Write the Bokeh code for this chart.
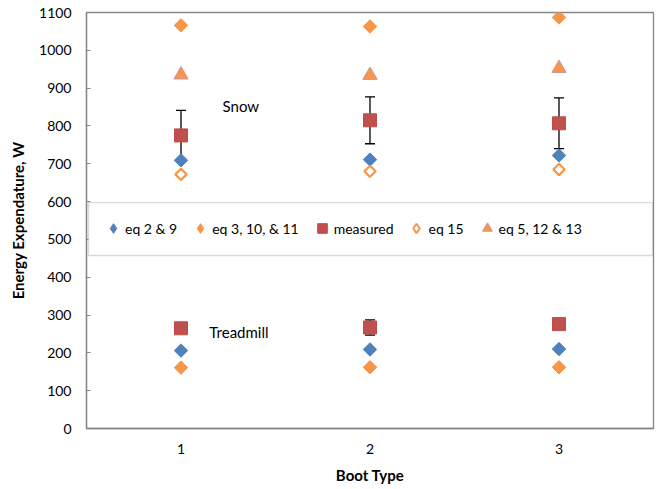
import numpy as np
from bokeh.plotting import figure
from bokeh.models import (ColumnDataSource, Range1d, FixedTicker, Legend, LegendItem,
                          Whisker, TeeHead, Label, BoxAnnotation)
from bokeh.embed import file_html
from bokeh.resources import INLINE

# ---- data ----
boots = [1, 2, 3]
x_ticks = [1, 2, 3]
y_ticks = [0, 100, 200, 300, 400, 500, 600, 700, 800, 900, 1000, 1100]

# Snow
snow_eq2_9 = [709, 711, 722]
snow_eq3_10_11 = [1066, 1063, 1087]
snow_measured = [775, 815, 807]
snow_measured_err = [66, 62, 67]
snow_eq15 = [672, 680, 685]
snow_eq5_12_13 = [935, 934, 952]

# Treadmill
tread_eq2_9 = [206, 209, 210]
tread_eq3_10_11 = [161, 162, 162]
tread_measured = [265, 267, 276]
tread_measured_err = [8, 20, 5]

FONT = "Lato"
BLUE, BLUE_L = "#4F81BD", "#4A7EBB"
ORANGE, ORANGE_L = "#F79646", "#F69240"
RED, RED_L = "#C0504D", "#BE4B48"
TRI_F, TRI_L = "#F79646", "#D9958F"
GRAY = "#868686"

p = figure(width=660, height=489, output_backend="svg", toolbar_location=None,
           x_range=Range1d(0.5, 3.5), y_range=Range1d(0, 1100),
           min_border_left=86, min_border_right=7, min_border_top=12, min_border_bottom=61)
p.background_fill_color = "white"
p.border_fill_color = "white"
p.outline_line_color = GRAY
p.outline_line_width = 1.3
p.xgrid.visible = False
p.ygrid.visible = False

# axes
p.xaxis.ticker = FixedTicker(ticks=x_ticks)
p.yaxis.ticker = FixedTicker(ticks=y_ticks)
for ax in (p.xaxis, p.yaxis):
    ax.axis_line_color = GRAY
    ax.axis_line_width = 1.3
    ax.minor_tick_line_color = None
    ax.major_tick_line_color = GRAY
    ax.major_label_text_font = FONT
    ax.major_label_text_font_size = "14px"
    ax.major_label_text_color = "#000000"
    ax.axis_label_text_font = FONT
    ax.axis_label_text_font_size = "15px"
    ax.axis_label_text_font_style = "bold"
    ax.axis_label_text_color = "#000000"
p.xaxis.major_tick_in = 0
p.xaxis.major_tick_out = 0
p.xaxis.major_label_standoff = 15
p.xaxis.axis_label = "Boot Type"
p.xaxis.axis_label_standoff = 9
p.yaxis.major_tick_in = 4
p.yaxis.major_tick_out = 0
p.yaxis.major_label_standoff = 15
p.yaxis.axis_label = "Energy Expendature, W"
p.yaxis.axis_label_standoff = 9

# error bars (beneath markers)
src_err = ColumnDataSource(dict(
    x=boots + boots,
    lo=[m - e for m, e in zip(snow_measured, snow_measured_err)] +
       [m - e for m, e in zip(tread_measured, tread_measured_err)],
    hi=[m + e for m, e in zip(snow_measured, snow_measured_err)] +
       [m + e for m, e in zip(tread_measured, tread_measured_err)],
))
wh = Whisker(source=src_err, base="x", lower="lo", upper="hi", dimension="height",
             line_color="black", line_width=1.3, level="underlay",
             lower_head=TeeHead(size=10, line_color="black", line_width=1.3),
             upper_head=TeeHead(size=10, line_color="black", line_width=1.3))
p.add_layout(wh)

# legend swatch renderers for the diamond series (drawn first, hidden under the
# rotated-square diamonds; legend swatches ignore marker angle)
lg_blue = p.scatter(boots, snow_eq2_9, marker="diamond", size=8,
                    fill_color=BLUE, line_color=BLUE_L)
lg_orange = p.scatter(boots, snow_eq3_10_11, marker="diamond", size=8,
                      fill_color=ORANGE, line_color=ORANGE_L)
lg_eq15 = p.scatter(boots, snow_eq15, marker="diamond", size=6,
                    fill_color="white", line_color=ORANGE, line_width=2)

ang = np.pi / 4
# snow series
p.scatter(boots, snow_eq2_9, marker="square", angle=ang, size=9.5,
          fill_color=BLUE, line_color=BLUE_L)
p.scatter(boots, snow_eq3_10_11, marker="square", angle=ang, size=9.5,
          fill_color=ORANGE, line_color=ORANGE_L)
r_meas = p.scatter(boots, snow_measured, marker="square", size=13,
                   fill_color=RED, line_color=RED_L)
p.scatter(boots, snow_eq15, marker="square", angle=ang, size=8,
          fill_color="white", line_color=ORANGE, line_width=2.2)
r_tri = p.scatter(boots, snow_eq5_12_13, marker="triangle", size=14,
                  fill_color=TRI_F, line_color=TRI_L, line_width=1.2)
# treadmill series
p.scatter(boots, tread_eq2_9, marker="square", angle=ang, size=9.5,
          fill_color=BLUE, line_color=BLUE_L)
p.scatter(boots, tread_eq3_10_11, marker="square", angle=ang, size=9.5,
          fill_color=ORANGE, line_color=ORANGE_L)
p.scatter(boots, tread_measured, marker="square", size=13,
          fill_color=RED, line_color=RED_L)

# text labels
p.add_layout(Label(x=1.22, y=852, text="Snow", text_font=FONT, text_font_size="15px",
                   text_baseline="middle", text_align="left", text_color="#000000"))
p.add_layout(Label(x=1.15, y=254, text="Treadmill", text_font=FONT, text_font_size="15px",
                   text_baseline="middle", text_align="left", text_color="#000000"))

# legend box
box = BoxAnnotation(left=0.5106, right=3.4947, bottom=457.5, top=597.5,
                    fill_color="white", fill_alpha=1.0, line_color=GRAY, line_width=1.3)
p.add_layout(box)

legend = Legend(items=[
    LegendItem(label="eq 2 & 9", renderers=[lg_blue]),
    LegendItem(label="eq 3, 10, & 11", renderers=[lg_orange]),
    LegendItem(label="measured", renderers=[r_meas]),
    LegendItem(label="eq 15", renderers=[lg_eq15]),
    LegendItem(label="eq 5, 12 & 13", renderers=[r_tri]),
], orientation="horizontal", location=(15, 188),
    border_line_color=None, background_fill_alpha=0,
    label_text_font=FONT, label_text_font_size="14px", label_text_color="#000000",
    glyph_width=24, glyph_height=24, label_standoff=0, spacing=11,
    padding=0, margin=0)
p.add_layout(legend, "center")

open("out.html", "w").write(file_html(p, INLINE))
